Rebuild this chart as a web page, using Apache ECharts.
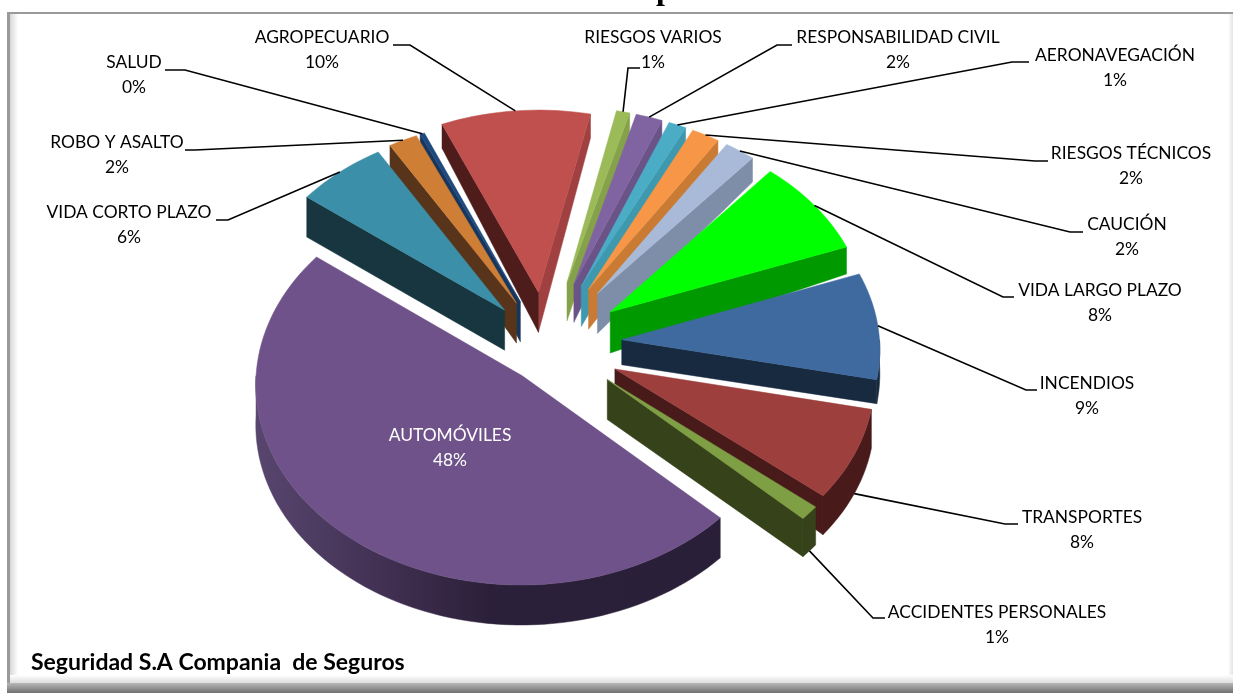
<!DOCTYPE html>
<html>
<head>
<meta charset="utf-8">
<title>Seguridad S.A</title>
<style>
    html, body { margin: 0; padding: 0; background: #fff; }
    #chart { width: 1233px; height: 693px; }
</style>
<script src="https://cdn.jsdelivr.net/npm/echarts@6/dist/echarts.min.js"></script>
</head>
<body>
<div id="chart"></div>
<script>
    // listed counter-clockwise, starting right after the big slice
    var categories = ['ACCIDENTES PERSONALES', 'TRANSPORTES', 'INCENDIOS', 'VIDA LARGO PLAZO', 'CAUCIÓN',
        'RIESGOS TÉCNICOS', 'AERONAVEGACIÓN', 'RESPONSABILIDAD CIVIL', 'RIESGOS VARIOS', 'AGROPECUARIO',
        'SALUD', 'ROBO Y ASALTO', 'VIDA CORTO PLAZO', 'AUTOMÓVILES'];
    var values = [1.2, 7.6, 8.9, 8.1, 2.1, 1.9, 1.2, 1.8, 0.9, 9.8, 0.3, 1.9, 6.0, 48.3];

    // slice look
    var topColors = ['#7F9F45', '#9C3F3D', '#3F6A9F', '#00FF00', '#A9BAD9', '#F79646', '#4BACC6', '#8064A2', '#9BBB59', '#BF504D', '#1F497D', '#CF7E36', '#3C8FA8', '#6E5289'];
    var rightWalls = ['#364219', '#481A1A', '#172A40', '#009900', '#7F8EA8', '#C97A33', '#3E98AE', '#6A5387', '#85A24A', '#A04040', '#1F497D', '#A86428', '#2F7488', '#2A1F38'];
    var leftWalls = ['#364219', '#481A1A', '#172A40', '#009900', '#7F8EA8', '#C97A33', '#3E98AE', '#6A5387', '#85A24A', '#4F1C1C', '#17365D', '#58351A', '#17363F', '#2A1F38'];
    var explode = [77, 77, 77, 80, 85, 85, 85, 85, 85, 70, 62, 62, 61, 38];
    var radius = [258, 258, 258, 258, 250, 250, 250, 250, 250, 258, 258, 258, 258, 265];
    var shiftX = [4, 0, 0, 0, 2, 2, 2, 2, 2, 0, 0, 0, 0, 2];
    var shiftY = [-3, 0, 0, 2, 0, 0, 0, 0, 0, 0, 0, 0, 0, 10];
    var wallInner = [40, 15, 25, 41, 40, 40, 40, 38, 38, 40, 40, 40, 40, 40];
    var wallOuter = [38, 39, 24, 27, 24, 24, 24, 22, 22, 24, 22, 22, 40, 40];

    // label centre x, first line y, start of leader x, y, elbow x
    var labelSpots = [
        [997, 612, 885, 618, 873], [1082, 517, 1018, 524, 1005], [1087, 383, 1037, 390, 1026],
        [1100, 290, 1014, 297, 1003], [1127, 224, 1083, 232, 1070], [1131, 153, 1048, 161, 1035],
        [1115, 55, 1029, 62, 1012], [898, 37, 792, 45, 777], [653, 37, 640, 68, 628],
        [322, 37, 393, 45, 410], [134, 62, 165, 70, 185], [117, 142, 185, 150, 195],
        [129, 212, 216, 220, 228], [450, 435]
    ];

    var cx = 545, cy = 344, tilt = 0.75, persp = 0.04, startAngle = -43.5;
    var labelFont = '17.4px Lato';

    var total = values.reduce(function (a, b) { return a + b; }, 0);
    var slices = [];
    var cursor = startAngle;
    values.forEach(function (v, i) {
        var a0 = cursor, a1 = cursor + v / total * 360;
        slices.push({a0: a0, a1: a1, mid: (a0 + a1) / 2});
        cursor = a1;
    });

    function rad(d) {
        return d * Math.PI / 180;
    }

    function project(i, gx, gy, drop) {
        var s = 1 / (1 + persp * gy / 258);
        return [cx + shiftX[i] + gx * s, cy + shiftY[i] - gy * tilt * s + (drop || 0)];
    }

    function apexOf(i) {
        var m = rad(slices[i].mid);
        return [explode[i] * Math.cos(m), explode[i] * Math.sin(m)];
    }

    function rimPoint(i, deg, drop) {
        var a = apexOf(i);
        return project(i, a[0] + radius[i] * Math.cos(rad(deg)), a[1] + radius[i] * Math.sin(rad(deg)), drop);
    }

    function arcPoints(i, from, to, drop) {
        var pts = [];
        var steps = Math.max(2, Math.ceil((to - from) / 2));
        for (var k = 0; k <= steps; k++) {
            pts.push(rimPoint(i, from + (to - from) * k / steps, drop));
        }
        return pts;
    }

    function poly(points, fill) {
        return {
            type: 'polygon',
            shape: {points: points},
            style: {fill: fill, stroke: fill, lineWidth: 0.5}
        };
    }

    function radialWall(i, deg, fill) {
        var a = apexOf(i);
        return poly([
            project(i, a[0], a[1], 0),
            rimPoint(i, deg, 0),
            rimPoint(i, deg, wallOuter[i]),
            project(i, a[0], a[1], wallInner[i])
        ], fill);
    }

    function arcWall(i) {
        // only the part of the rim that faces the viewer
        var s = slices[i], from, to;
        if (s.a0 >= 90) {
            from = Math.max(s.a0, 180);
            to = Math.min(s.a1, 360);
        } else {
            from = s.a0;
            to = Math.min(s.a1, 0);
        }
        if (to <= from) return null;
        var fill = leftWalls[i];
        if (i === 13) {
            fill = new echarts.graphic.LinearGradient(259, 0, 720, 0, [
                {offset: 0, color: '#57456E'},
                {offset: 0.3, color: '#3F2E4F'},
                {offset: 0.5, color: '#2B2039'},
                {offset: 1, color: '#2A1F38'}
            ], true);
        }
        return poly(arcPoints(i, from, to, 0).concat(arcPoints(i, from, to, wallOuter[i]).reverse()), fill);
    }

    function renderSlice(params, api) {
        var i = api.value(0);
        var s = slices[i];
        var a = apexOf(i);
        var children = [];
        // a straight wall shows only when it faces the viewer
        if (Math.sin(rad(s.a0 - 90)) < 0) children.push(radialWall(i, s.a0, rightWalls[i]));
        if (Math.sin(rad(s.a1 + 90)) < 0) children.push(radialWall(i, s.a1, leftWalls[i]));
        var wall = arcWall(i);
        if (wall) children.push(wall);
        children.push(poly([project(i, a[0], a[1], 0)].concat(arcPoints(i, s.a0, s.a1, 0)), topColors[i]));
        return {type: 'group', children: children};
    }

    function renderLabel(params, api) {
        var i = api.value(0);
        var spot = labelSpots[i];
        var inside = i === 13;
        var color = inside ? '#FFFFFF' : '#000000';
        var children = [
            {type: 'text', style: {x: spot[0], y: spot[1], text: categories[i], fill: color, font: labelFont, align: 'center', verticalAlign: 'middle'}},
            {type: 'text', style: {x: spot[0], y: spot[1] + 25, text: Math.round(values[i]) + '%', fill: color, font: labelFont, align: 'center', verticalAlign: 'middle'}}
        ];
        if (!inside) {
            var mid = slices[i].mid;
            var drop = Math.sin(rad(mid)) < -0.3 ? wallOuter[i] : 0;
            children.push({
                type: 'polyline',
                shape: {points: [[spot[2], spot[3]], [spot[4], spot[3]], rimPoint(i, mid, drop)]},
                style: {fill: 'none', stroke: '#000', lineWidth: 1.6}
            });
        }
        return {type: 'group', children: children};
    }

    // far slices first so that the nearer ones paint over them
    var drawOrder = values.map(function (v, i) { return i; }).sort(function (p, q) {
        return Math.sin(rad(slices[q].mid)) - Math.sin(rad(slices[p].mid));
    });

    var myChart = echarts.init(document.getElementById('chart'));
    myChart.setOption({
        animation: false,
        backgroundColor: '#FFFFFF',
        graphic: [
            {type: 'rect', shape: {x: 10, y: 14, width: 8, height: 669}, style: {fill: new echarts.graphic.LinearGradient(0, 0, 1, 0, [{offset: 0, color: '#D8D8D8'}, {offset: 1, color: '#FFFFFF'}])}},
            {type: 'rect', shape: {x: 1228, y: 14, width: 5, height: 669}, style: {fill: new echarts.graphic.LinearGradient(0, 0, 1, 0, [{offset: 0, color: '#FFFFFF'}, {offset: 1, color: '#E4E4E4'}])}},
            {type: 'rect', shape: {x: 10, y: 675, width: 1223, height: 8}, style: {fill: new echarts.graphic.LinearGradient(0, 0, 0, 1, [{offset: 0, color: '#FFFFFF'}, {offset: 1, color: '#DDDDDD'}])}},
            {type: 'rect', shape: {x: 7, y: 12, width: 1226, height: 2}, style: {fill: '#9A9A9A'}},
            {type: 'rect', shape: {x: 7, y: 12, width: 3, height: 672}, style: {fill: '#9A9A9A'}},
            {type: 'rect', shape: {x: 7, y: 683, width: 1226, height: 10}, style: {fill: new echarts.graphic.LinearGradient(0, 0, 0, 1, [{offset: 0, color: '#B8B8B8'}, {offset: 1, color: '#707070'}])}},
            {type: 'text', style: {x: 665, y: 7, text: 'p', fill: '#000', font: 'bold 32px "Liberation Serif"', align: 'center', verticalAlign: 'bottom'}},
            {type: 'text', style: {x: 31, y: 663, text: 'Seguridad S.A Compania  de Seguros', fill: '#000', font: 'bold 23px Lato', verticalAlign: 'middle'}}
        ],
        series: [
            {
                type: 'custom',
                coordinateSystem: 'none',
                silent: true,
                renderItem: renderSlice,
                data: drawOrder.map(function (i) { return [i, values[i]]; })
            },
            {
                type: 'custom',
                coordinateSystem: 'none',
                silent: true,
                z: 3,
                renderItem: renderLabel,
                data: values.map(function (v, i) { return [i, v]; })
            }
        ]
    });
</script>
</body>
</html>
